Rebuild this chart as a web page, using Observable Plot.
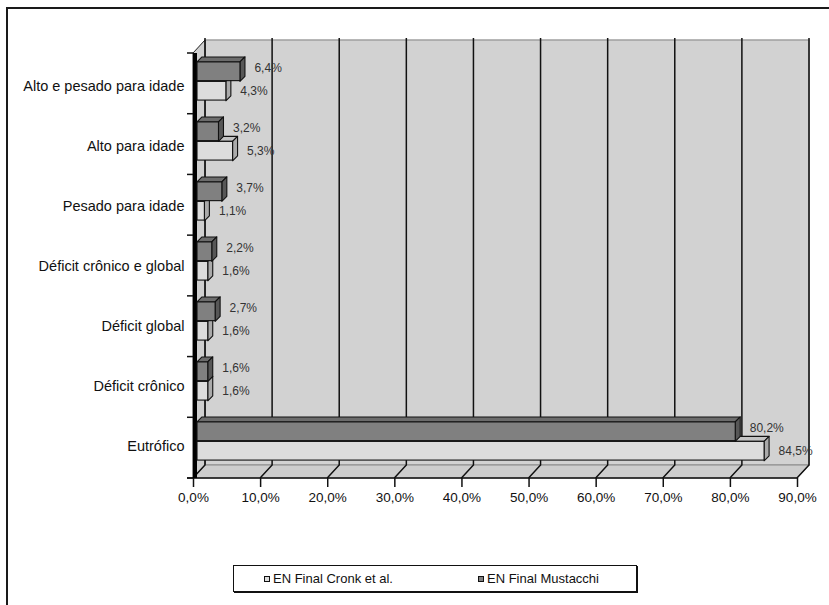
<!DOCTYPE html>
<html>
<head>
<meta charset="utf-8">
<script src="https://cdn.jsdelivr.net/npm/d3@7"></script>
<script src="https://cdn.jsdelivr.net/npm/@observablehq/plot@0.6"></script>
<style>
  body { margin: 0; background: #fff; font-family: "Liberation Sans", Arial, sans-serif; }
  #page { position: relative; width: 829px; height: 605px; overflow: hidden; background: #fff; }
  .rule-v { position: absolute; left: 6px; top: 7px; width: 2px; height: 620px; background: #1a1a1a; }
  .rule-h { position: absolute; left: 6px; top: 7px; width: 840px; height: 2px; background: #1a1a1a; }
  #chart { position: absolute; left: 0; top: 0; }
  #legend { position: absolute; left: 233px; top: 565px; width: 402px; height: 25px;
            border: 1px solid #111; box-shadow: 1px 1px 0 #111; background: #fff;
            font-size: 13px; color: #111; }
  #legend .item { position: absolute; top: 0; height: 25px; display: flex; align-items: center; white-space: nowrap; }
  #legend .sw { width: 4px; height: 4px; border: 1px solid #111; margin-right: 3px; }
</style>
</head>
<body>
<div id="page">
  <div class="rule-v"></div>
  <div class="rule-h"></div>
  <div id="chart"></div>
  <div id="legend"></div>
</div>
<script>
// Categories, top to bottom
const categories = [
  "Alto e pesado para idade",
  "Alto para idade",
  "Pesado para idade",
  "Déficit crônico e global",
  "Déficit global",
  "Déficit crônico",
  "Eutrófico"
];
const seriesNames = ["EN Final Cronk et al.", "EN Final Mustacchi"];
// Percent values per category
const cronk     = [4.3, 5.3, 1.1, 1.6, 1.6, 1.6, 84.5];
const mustacchi = [6.4, 3.2, 3.7, 2.2, 2.7, 1.6, 80.2];
const xTicks = [0, 10, 20, 30, 40, 50, 60, 70, 80, 90];

// Layout of the pseudo-3D box
const W = 829, H = 530;
const M = {top: 53, right: 32, bottom: 52, left: 193};
const WALL = {dx: 12, dy: -13};      // depth of the walls/floor
const BAR_OFF = {dx: 4, dy: -5};     // bars' front plane relative to the axis plane
const BAR_DEPTH = {dx: 5, dy: -5};   // extrusion of each bar
const bw = (H - M.top - M.bottom) / categories.length;
const pad = bw * 0.18;
const barH = (bw - 2 * pad) / 2;

const look = {
  [seriesNames[0]]: {front: "#dcdcdc", top: "#c4c4c4", side: "#aaaaaa"},
  [seriesNames[1]]: {front: "#808080", top: "#6c6c6c", side: "#575757"}
};

const rows = categories.flatMap((c, i) => [
  {category: c, series: seriesNames[1], value: mustacchi[i], slot: 0},
  {category: c, series: seriesNames[0], value: cronk[i], slot: 1}
]);
const darkRows = rows.filter(d => d.slot === 0);
const lightRows = rows.filter(d => d.slot === 1);

const pct = v => d3.format(".1f")(v).replace(".", ",") + "%";

// Back wall, left wall, floor and gridlines
function box(index, {x, y}) {
  const g = d3.create("svg:g");
  const x0 = x(0), x1 = x(90);
  const yTop = M.top, yBot = H - M.bottom;
  const {dx, dy} = WALL;
  g.append("rect")
    .attr("x", x0 + dx).attr("y", yTop + dy)
    .attr("width", x1 - x0).attr("height", yBot - yTop)
    .attr("fill", "#d2d2d2").attr("stroke", "#a0a0a0").attr("stroke-width", 1.5);
  g.append("path")
    .attr("d", `M${x0},${yTop}L${x0 + dx},${yTop + dy}L${x0 + dx},${yBot + dy}L${x0},${yBot}Z`)
    .attr("fill", "#cfcfcf").attr("stroke", "#222").attr("stroke-width", 1);
  g.append("path")
    .attr("d", `M${x0},${yBot}L${x1},${yBot}L${x1 + dx},${yBot + dy}L${x0 + dx},${yBot + dy}Z`)
    .attr("fill", "#cdcdcd").attr("stroke", "#8a8a8a").attr("stroke-width", 1);
  for (const t of xTicks) {
    const xb = x(t) + dx;
    g.append("path")
      .attr("d", `M${xb},${yTop + dy - 2}L${xb},${yBot + dy}L${x(t)},${yBot}`)
      .attr("fill", "none").attr("stroke", "#111").attr("stroke-width", 1.5);
  }
  // front axis line
  g.append("line").attr("x1", x0 - 6).attr("x2", x1).attr("y1", yBot).attr("y2", yBot)
    .attr("stroke", "#111").attr("stroke-width", 1.5);
  // left edge
  g.append("line").attr("x1", x0 + 2).attr("x2", x0 + 2).attr("y1", yTop).attr("y2", yBot)
    .attr("stroke", "#000").attr("stroke-width", 4);
  // category boundary ticks
  for (let i = 0; i <= categories.length; i++) {
    const yy = yTop + i * bw;
    g.append("line").attr("x1", x0 - 6).attr("x2", x0).attr("y1", yy).attr("y2", yy)
      .attr("stroke", "#111").attr("stroke-width", 1.5);
  }
  return g.node();
}

// Top and right faces of the bars of one series
function faces(data) {
  return (index, {x, y}) => {
    const g = d3.create("svg:g").attr("stroke", "#111").attr("stroke-width", 1.1).attr("stroke-linejoin", "round");
    const {dx, dy} = BAR_DEPTH;
    for (const r of data) {
      const st = look[r.series];
      const xa = x(0) + BAR_OFF.dx, xb = x(r.value) + BAR_OFF.dx;
      const ya = y(r.category) + pad + r.slot * barH + BAR_OFF.dy, yb = ya + barH;
      g.append("path").attr("fill", st.top)
        .attr("d", `M${xa},${ya}L${xb},${ya}L${xb + dx},${ya + dy}L${xa + dx},${ya + dy}Z`);
      g.append("path").attr("fill", st.side)
        .attr("d", `M${xb},${ya}L${xb + dx},${ya + dy}L${xb + dx},${yb + dy}L${xb},${yb}Z`);
    }
    return g.node();
  };
}

function fronts(data, slot) {
  return Plot.barX(data, {
    x: "value", y: "category",
    fill: d => look[d.series].front,
    stroke: "#111", strokeWidth: 1.1,
    insetTop: pad + slot * barH, insetBottom: pad + (1 - slot) * barH,
    dx: BAR_OFF.dx, dy: BAR_OFF.dy
  });
}

const chart = Plot.plot({
  width: W, height: H,
  marginTop: M.top, marginRight: M.right, marginBottom: M.bottom, marginLeft: M.left,
  style: {fontFamily: "'Liberation Sans', Arial, sans-serif", fontSize: "13px", color: "#111", background: "transparent", overflow: "visible"},
  x: {domain: [0, 90], label: null},
  y: {domain: categories, padding: 0, label: null},
  marks: [
    box,
    faces(lightRows),
    fronts(lightRows, 1),
    faces(darkRows),
    fronts(darkRows, 0),
    Plot.axisX({ticks: xTicks, tickFormat: d => pct(d), tickSize: 9, tickPadding: 5, strokeWidth: 1.5, fontSize: 13.5, label: null}),
    Plot.axisY({tickSize: 0, tickPadding: 9, fontSize: 14.5, label: null}),
    Plot.text(darkRows, {x: "value", y: "category", text: d => pct(d.value), textAnchor: "start",
      dx: BAR_OFF.dx + 14, dy: -barH / 2 + BAR_OFF.dy - 4, fontSize: 12, fill: "#333"}),
    Plot.text(lightRows, {x: "value", y: "category", text: d => pct(d.value), textAnchor: "start",
      dx: BAR_OFF.dx + 14, dy: barH / 2 + BAR_OFF.dy, fontSize: 12, fill: "#333"})
  ]
});
document.getElementById("chart").append(chart);

// Legend
const legend = document.getElementById("legend");
const legendLeft = [30, 244];
seriesNames.forEach((name, i) => {
  const item = document.createElement("div");
  item.className = "item";
  item.style.left = legendLeft[i] + "px";
  const sw = document.createElement("span");
  sw.className = "sw";
  sw.style.background = look[name].front;
  const tx = document.createElement("span");
  tx.textContent = name;
  item.append(sw, tx);
  legend.append(item);
});
</script>
</body>
</html>
